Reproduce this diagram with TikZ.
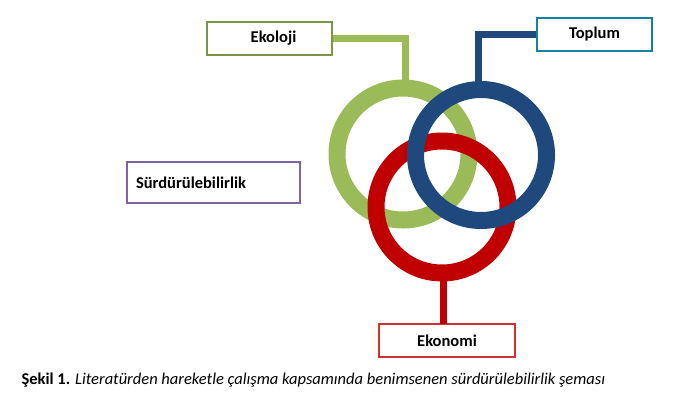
\documentclass[tikz,border=0pt]{standalone}
\usepackage{fontspec}
\setmainfont{Carlito}
\begin{document}
\begin{tikzpicture}[x=1pt,y=-1pt,
 lbl/.style={draw,line width=1.2pt,minimum height=33pt,font=\bfseries\fontsize{16.5}{20}\selectfont,inner sep=0pt},
 ring/.style={line width=17pt},
 stem/.style={line width=7pt}]
\useasboundingbox (0,0) rectangle (700,407);
\definecolor{gr}{HTML}{9BBB59}\definecolor{bl}{HTML}{1F497D}\definecolor{rd}{HTML}{C00000}
\definecolor{pu}{HTML}{8064A2}
\node[lbl,draw=gr!80!black,minimum width=125pt] (eko) at (269.5,38.5) {\hspace*{8pt}Ekoloji};
\node[lbl,draw=bl!70!cyan,minimum width=115pt] (top) at (594.5,34.5) {Toplum};
\node[lbl,draw=pu,minimum width=173pt,minimum height=41pt,text width=155pt,align=left] (sur) at (213.5,182.5) {Sürdürülebilirlik};
\node[lbl,draw=rd!80,minimum width=136pt] (ekn) at (447,340.5) {Ekonomi};
\coordinate (gc) at (403,154); \coordinate (bc) at (481,155); \coordinate (rc) at (442,207);
\draw[stem,gr] (eko.east) -| (405,90);
\draw[stem,bl] (top.west) -| (478,90);
\draw[stem,rd] (443,323.9) -- (443,275);
\draw[ring,gr] (gc) circle (66);
\draw[ring,rd] (rc) circle (66);
\draw[ring,bl] (bc) circle (65.5);
\node[anchor=west,font=\fontsize{16.5}{19}\selectfont] (cap) at (18,380) {\textbf{Şekil 1.} \textit{Literatürden hareketle çalışma kapsamında benimsenen sürdürülebilirlik şeması}};
\end{tikzpicture}
\end{document}
